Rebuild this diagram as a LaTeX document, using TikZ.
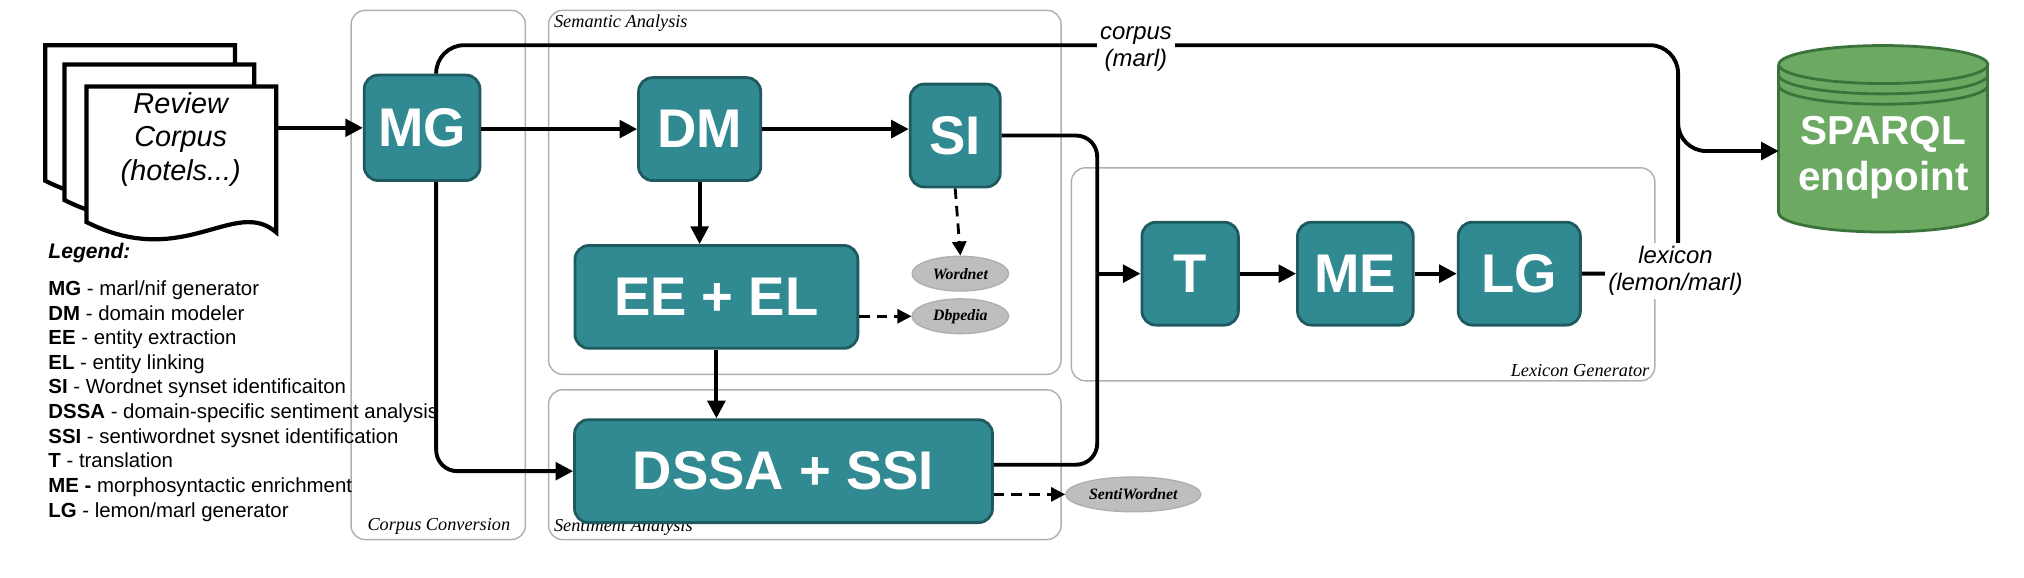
\documentclass[tikz,border=0pt]{standalone}
\usepackage{fontspec}
\setmainfont{Liberation Sans}
\newfontfamily\serifface{Liberation Serif}
\usetikzlibrary{arrows.meta,shapes.geometric,calc}
\definecolor{tealbox}{RGB}{49,138,145}
\definecolor{tealdark}{RGB}{30,90,95}
\definecolor{cylgreen}{RGB}{108,170,100}
\definecolor{cyldark}{RGB}{60,115,58}
\definecolor{grpgray}{RGB}{175,175,175}
\definecolor{elgray}{RGB}{190,190,190}
\tikzset{
  pbox/.style={draw=tealdark,fill=tealbox,line width=0.8pt,rounded corners=4pt,text=white,
    font=\fontsize{15.5}{17}\selectfont\bfseries,minimum height={80*0.3659pt},inner sep=0pt},
  grp/.style={draw=grpgray,line width=0.4pt,rounded corners=4pt},
  grplab/.style={font=\serifface\itshape\fontsize{5.2}{6}\selectfont,inner sep=1pt},
  conn/.style={line width=1.1pt,-{Triangle[length=5pt,width=5pt]}},
  line/.style={line width=1.1pt},
  dconn/.style={line width=0.8pt,densely dashed,-{Triangle[length=4pt,width=4pt]}},
  res/.style={ellipse,draw=grpgray,fill=elgray,font=\serifface\itshape\bfseries\fontsize{4.5}{5}\selectfont,inner sep=0pt},
  sheet/.style={draw=black,fill=white,line width=1.2pt},
  flab/.style={font=\itshape\fontsize{6.8}{7.6}\selectfont,fill=white,inner sep=1pt,align=center}
}
\begin{document}
\begin{tikzpicture}[x=0.012908cm,y=-0.012908cm]
\useasboundingbox (0,0) rectangle (1568,447);
% groups
\draw[grp] (272,8) rectangle (407,418);
\node[grplab,anchor=south] (cclab) at (340,417) {Corpus Conversion};
\draw[grp] (425,8) rectangle (822,290);
\node[grplab,anchor=north west] (salab) at (426,8) {Semantic Analysis};
\draw[grp] (425,302) rectangle (822,418);
\node[grplab,anchor=south west] (selab) at (426,418) {Sentiment Analysis};
\draw[grp] (830,130) rectangle (1282,295);
\node[grplab,anchor=south east] (lglab) at (1281,295) {Lexicon Generator};
% documents
\foreach \dx in {0,15,32}{
  \draw[sheet] (35+\dx,35+\dx) -- (182+\dx,35+\dx) -- (182+\dx,148+\dx)
    .. controls (150+\dx,120+\dx) and (110+\dx,178+\dx) .. (35+\dx,140+\dx) -- cycle;
}
\node[font=\itshape\fontsize{8.2}{9.6}\selectfont,align=center] (doc) at (140,108) {Review\\Corpus\\(hotels...)};
\coordinate (docr) at (214,99);
% legend
\node[anchor=north west,font=\bfseries\itshape\fontsize{6}{7}\selectfont,inner sep=0pt] (leg) at (37,188) {Legend:};
\node[anchor=north west,align=left,font=\fontsize{5.8}{7}\selectfont,inner sep=0pt] (legtext) at (37,217) {%
\textbf{MG} - marl/nif generator\\
\textbf{DM} - domain modeler\\
\textbf{EE} - entity extraction\\
\textbf{EL} - entity linking\\
\textbf{SI} - Wordnet synset identificaiton\\
\textbf{DSSA} - domain-specific sentiment analysis\\
\textbf{SSI} - sentiwordnet sysnet identification\\
\textbf{T} - translation\\
\textbf{ME -} morphosyntactic enrichment\\
\textbf{LG} - lemon/marl generator};
% process boxes
\node[pbox,minimum width={90*0.3659pt},minimum height={82*0.3659pt}] (MG) at (327,99) {MG};
\node[pbox,minimum width={95*0.3659pt}] (DM) at (542,100) {DM};
\node[pbox,minimum width={70*0.3659pt}] (SI) at (740,105) {SI};
\node[pbox,minimum width={220*0.3659pt}] (EE) at (555,230) {EE + EL};
\node[pbox,minimum width={325*0.3659pt}] (DSSA) at (607,365) {DSSA + SSI};
\node[pbox,minimum width={75*0.3659pt}] (T) at (922,212) {T};
\node[pbox,minimum width={90*0.3659pt}] (ME) at (1050,212) {ME};
\node[pbox,minimum width={95*0.3659pt}] (LG) at (1177,212) {LG};
% resources
\node[res,minimum width={75*0.3659pt},minimum height={27*0.3659pt}] (WN) at (744,212) {Wordnet};
\node[res,minimum width={75*0.3659pt},minimum height={27*0.3659pt}] (DB) at (744,245) {Dbpedia};
\node[res,minimum width={105*0.3659pt},minimum height={27*0.3659pt}] (SW) at (878,383) {SentiWordnet};
% cylinder
\fill[cylgreen,draw=cyldark,line width=0.8pt] (1459,165) ellipse (1.045cm and 0.19cm);
\fill[cylgreen] (1378,50) rectangle (1540,165);
\draw[cyldark,line width=0.8pt] (1378,50) -- (1378,165) (1540,50) -- (1540,165);
\fill[cylgreen,draw=cyldark,line width=0.8pt] (1459,50) ellipse (1.045cm and 0.19cm);
\draw[cyldark,line width=0.8pt] (1378,58) arc[start angle=180,end angle=360,x radius=1.045cm,y radius=0.19cm];
\draw[cyldark,line width=0.8pt] (1378,66) arc[start angle=180,end angle=360,x radius=1.045cm,y radius=0.19cm];
\node[text=white,font=\fontsize{11.5}{13}\selectfont\bfseries,align=center] (SP) at (1459,122) {SPARQL\\endpoint};
\coordinate (sparql) at (1378,117);
\coordinate (jn) at (1300,117);
\coordinate (topc) at (1300,35);
\coordinate (split) at (850,212);
% connectors
\draw[conn] (docr) -- (MG.west);
\draw[conn] (MG.east |- DM.west) -- (DM.west);
\draw[conn] (DM.east) -- (SI.west |- DM.east);
\draw[conn] (DM.south) -- (DM.south |- EE.north);
\draw[conn] (EE.south) -- (EE.south |- DSSA.north);
\draw[conn,rounded corners=6pt] ([xshift=4pt]MG.south) |- (DSSA.west);
\draw[line,rounded corners=8pt] ([xshift=4pt]MG.north) |- (topc) -- (jn);
\draw[conn,rounded corners=8pt] ($(jn)+(0,-10)$) -- (jn) -- (sparql);
\draw[line,rounded corners=8pt] (LG.east) -| (jn);
\draw[line,rounded corners=6pt] (SI.east) -| (split);
\draw[line,rounded corners=6pt] (DSSA.east |- 0,360) -| (split);
\draw[conn] (split) -- (T.west);
\draw[conn] (T.east) -- (ME.west);
\draw[conn] (ME.east) -- (LG.west);
\draw[dconn] (SI.south) -- (WN.north);
\draw[dconn] (EE.east |- DB.west) -- (DB.west);
\draw[dconn] (DSSA.east |- SW.west) -- (SW.west);
% labels
\node[flab] (corpl) at (880,38) {corpus\\(marl)};
\node[flab] (lexl) at (1298,210) {lexicon\\(lemon/marl)};
\end{tikzpicture}
\end{document}
